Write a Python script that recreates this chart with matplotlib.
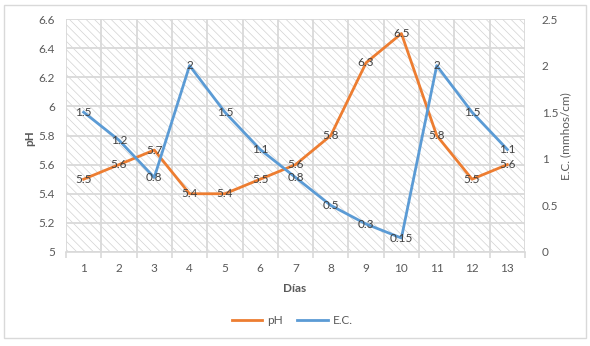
import matplotlib
matplotlib.use("Agg")
import matplotlib.pyplot as plt
from matplotlib.patches import Rectangle
from matplotlib.lines import Line2D

plt.rcParams['font.family'] = ['Lato', 'DejaVu Sans']
plt.rcParams['hatch.linewidth'] = 0.5
plt.rcParams['hatch.color'] = '#d2d2d2'

dias = [1, 2, 3, 4, 5, 6, 7, 8, 9, 10, 11, 12, 13]
ph = [5.5, 5.6, 5.7, 5.4, 5.4, 5.5, 5.6, 5.8, 6.3, 6.5, 5.8, 5.5, 5.6]
ec = [1.5, 1.2, 0.8, 2, 1.5, 1.1, 0.8, 0.5, 0.3, 0.15, 2, 1.5, 1.1]
ph_ticks = [5, 5.2, 5.4, 5.6, 5.8, 6, 6.2, 6.4, 6.6]
ec_ticks = [0, 0.5, 1, 1.5, 2, 2.5]

orange = '#ED7D31'
blue = '#5B9BD5'
grid_c = '#d9d9d9'
txt_c = '#595959'
lbl_c = '#404040'

fig = plt.figure(figsize=(5.9, 3.46), dpi=100)
# outer chart border
fig.patches.append(Rectangle((4/590, 8/346), 582/590, 333/346, transform=fig.transFigure,
                             fill=False, edgecolor=grid_c, linewidth=1.0))

ax = fig.add_axes([66/590, 1-252/346, 459/590, 233/346])
ax.set_facecolor('white')
ax.patch.set_hatch('\\\\\\\\')
ax.patch.set_edgecolor('#d2d2d2')
ax.patch.set_linewidth(0)

ax.set_xlim(0.5, 13.5)
ax.set_ylim(5, 6.6)
ax.set_yticks(ph_ticks)
ax.set_yticklabels([('%g' % t) for t in ph_ticks])
ax.set_xticks([d + 0.5 for d in dias[:-1]] + [0.5, 13.5])
ax.set_xticklabels([])
ax.set_xticks(dias, minor=True)
ax.set_xticklabels([str(d) for d in dias], minor=True)
ax.tick_params(axis='x', which='major', length=4, color=grid_c, width=1.2)
ax.tick_params(axis='x', which='minor', length=0, pad=8, labelsize=8.5, labelcolor=txt_c)
ax.tick_params(axis='y', length=0, pad=8, labelsize=8.5, labelcolor=txt_c)
ax.grid(True, which='major', color=grid_c, linewidth=1.3)
ax.set_axisbelow(True)
for s in ['top', 'right', 'left']:
    ax.spines[s].set_visible(False)
ax.spines['bottom'].set_color(grid_c)
ax.spines['bottom'].set_linewidth(1.2)

ax.plot(dias, ph, color=orange, linewidth=2)
for d, v in zip(dias, ph):
    ax.text(d, v, '%g' % v, ha='center', va='center', fontsize=8.5, color=lbl_c)

ax2 = ax.twinx()
ax2.set_ylim(0, 2.5)
ax2.set_yticks(ec_ticks)
ax2.set_yticklabels([('%g' % t) for t in ec_ticks])
ax2.tick_params(axis='y', length=0, pad=12, labelsize=8.5, labelcolor=txt_c)
for s in ax2.spines.values():
    s.set_visible(False)
ax2.plot(dias, ec, color=blue, linewidth=2)
for d, v in zip(dias, ec):
    ax2.text(d, v, '%g' % v, ha='center', va='center', fontsize=8.5, color=lbl_c)

fig.text(30/590, 1-138/346, 'pH', rotation=90, ha='center', va='center',
         fontsize=8.5, fontweight='bold', color=txt_c)
fig.text(295/590, 1-288/346, 'Días', ha='center', va='center',
         fontsize=8.5, fontweight='bold', color=txt_c)
fig.text(566/590, 1-136/346, 'E.C. (mmhos/cm)', rotation=90, ha='center', va='center',
         fontsize=8.5, color=txt_c)

handles = [Line2D([], [], color=orange, linewidth=2), Line2D([], [], color=blue, linewidth=2)]
fig.legend(handles, ['pH', 'E.C.'], loc='center', bbox_to_anchor=(292/590, 1-321/346),
           ncol=2, frameon=False, fontsize=8.5, labelcolor=txt_c, handlelength=2.6,
           handletextpad=0.4, columnspacing=1.2)

fig.savefig('out.png', dpi=100)
